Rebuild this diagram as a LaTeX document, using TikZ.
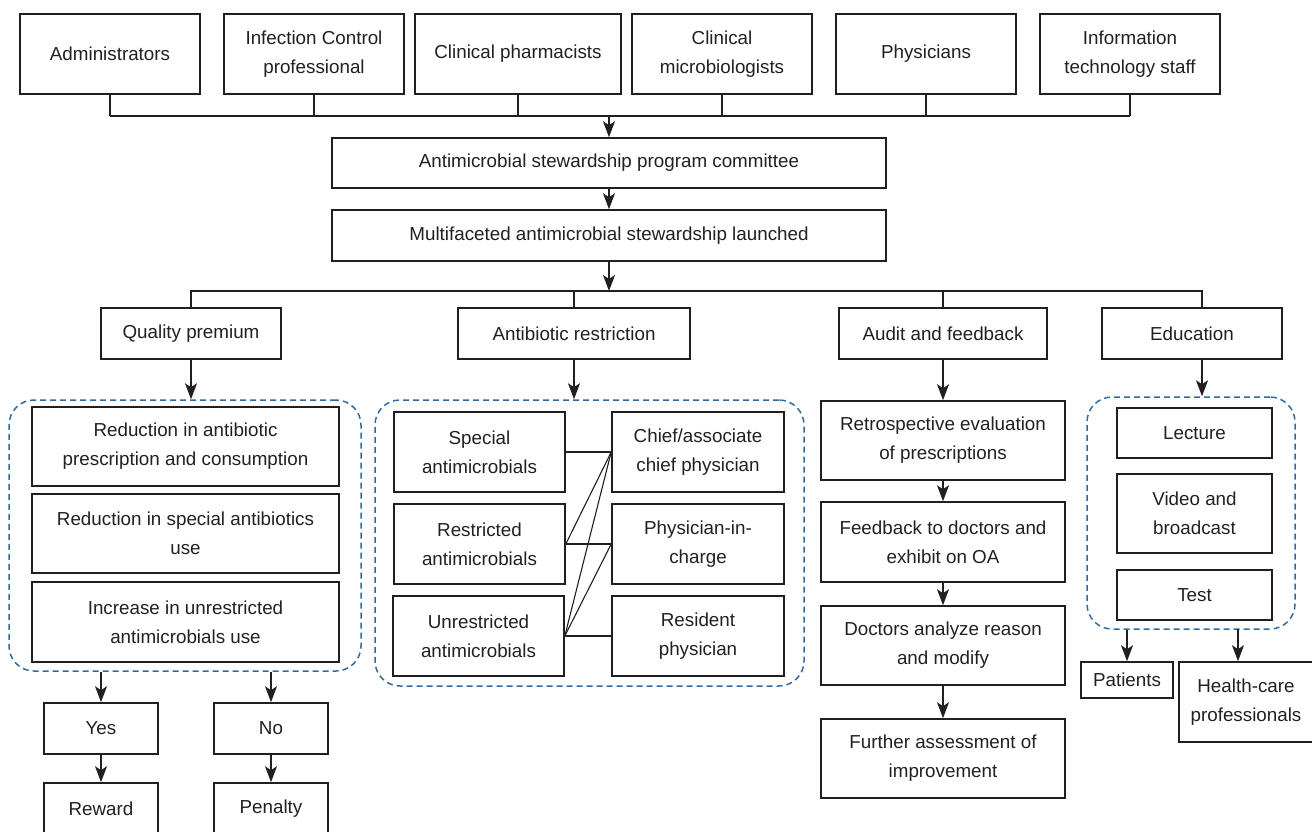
\documentclass[tikz,border=0pt]{standalone}
\usepackage{fontspec}
\setmainfont{Liberation Sans}
\usepackage{tikz}
\usetikzlibrary{arrows.meta,calc}
\definecolor{ink}{HTML}{231F20}
\definecolor{groupblue}{HTML}{2E6BA3}

\begin{document}
\begin{tikzpicture}[x=1pt, y=-1pt,
    box/.style={draw=ink, line width=1.6pt, text=ink, align=center, inner sep=0pt,
                font=\fontsize{18.8}{29}\selectfont},
    wh/.style 2 args={minimum width=#1pt, minimum height=#2pt},
    conn/.style={draw=ink, line width=1.4pt},
    link/.style={draw=ink, line width=1.1pt},
    arr/.style={conn, -{Stealth[length=16pt, width=12pt, inset=4pt]}},
    group/.style={draw=groupblue, line width=1.5pt, dash pattern=on 6pt off 4pt,
                  rounded corners=25pt, inner sep=0pt}]
    \useasboundingbox (0,0) rectangle (1312,831);

    % Team members
    \node[box, wh={180}{80}] (adm) at (110,54) {Administrators};
    \node[box, wh={180}{80}] (icp) at (314,54) {Infection Control\\professional};
    \node[box, wh={206}{80}] (cph) at (518,54) {Clinical pharmacists};
    \node[box, wh={180}{80}] (cmb) at (722,54) {Clinical\\microbiologists};
    \node[box, wh={180}{80}] (phy) at (926,54) {Physicians};
    \node[box, wh={180}{80}] (its) at (1130,54) {Information\\technology staff};

    \coordinate (b1) at (609,116);
    \foreach \n in {adm,icp,cph,cmb,phy,its} {
        \draw[conn] (\n.south) -- (\n.south |- b1);
    }
    \draw[conn] (adm.south |- b1) -- (its.south |- b1);

    % Committee and launch
    \node[box, wh={554}{50}] (com) at (609,163) {Antimicrobial stewardship program committee};
    \node[box, wh={554}{51}] (mul) at (609,235.5) {Multifaceted antimicrobial stewardship launched};
    \draw[arr] (b1) -- (com.north);
    \draw[arr] (com.south) -- (mul.north);

    \coordinate (b2) at (609,291);
    \coordinate (b2r) at (1202,291);
    \draw[arr] (mul.south) -- (b2);

    % Four strategies
    \node[box, wh={180}{51}] (qp) at (191,333.5) {Quality premium};
    \node[box, wh={232}{51}] (ar) at (574,333.5) {Antibiotic restriction};
    \node[box, wh={208}{51}] (af) at (943,333.5) {Audit and feedback};
    \node[box, wh={180}{51}] (ed) at (1192,333.5) {Education};

    \draw[conn] (qp.north) -- (qp.north |- b2) -- (b2r) -- (b2r |- ed.north);
    \foreach \n in {ar,af} {
        \draw[conn] (\n.north) -- (\n.north |- b2);
    }

    % Quality premium
    \node[group, wh={352}{271}] (gq) at (185,535.5) {};
    \node[box, wh={307}{79}] (q1) at (185.5,446.5) {Reduction in antibiotic\\prescription and consumption};
    \node[box, wh={307}{79}] (q2) at (185.5,533.5) {Reduction in special antibiotics\\use};
    \node[box, wh={307}{80}] (q3) at (185.5,622) {Increase in unrestricted\\antimicrobials use};
    \draw[arr] (qp.south) -- (qp.south |- gq.north);

    \node[box, wh={114}{51}] (yes) at (101,728.5) {Yes};
    \node[box, wh={114}{51}] (no) at (271,728.5) {No};
    \node[box, wh={114}{51}] (rew) at (101,808.5) {Reward};
    \node[box, wh={114}{51}] (pen) at (271,808.5) {Penalty};
    \draw[arr] (yes.north |- gq.south) -- (yes.north);
    \draw[arr] (no.north |- gq.south) -- (no.north);
    \draw[arr] (yes.south) -- (rew.north);
    \draw[arr] (no.south) -- (pen.north);

    % Antibiotic restriction
    \node[group, wh={429}{286}] (ga) at (589.5,543) {};
    \node[box, wh={171}{80}] (spa) at (479.5,452) {Special\\antimicrobials};
    \node[box, wh={171}{80}] (rsa) at (479.5,544) {Restricted\\antimicrobials};
    \node[box, wh={171}{80}] (ura) at (478.5,636) {Unrestricted\\antimicrobials};
    \node[box, wh={172}{80}] (chf) at (698,452) {Chief/associate\\chief physician};
    \node[box, wh={172}{80}] (pic) at (698,544) {Physician-in-\\charge};
    \node[box, wh={172}{80}] (res) at (698,636) {Resident\\physician};
    \draw[arr] (ar.south) -- (ar.south |- ga.north);
    \foreach \a/\b in {spa/chf,rsa/chf,rsa/pic,ura/chf,ura/pic,ura/res} {
        \draw[link] (\a.east) -- (\b.west);
    }

    % Audit and feedback
    \node[box, wh={244}{79}] (r1) at (943,440.5) {Retrospective evaluation\\of prescriptions};
    \node[box, wh={244}{80}] (r2) at (943,542) {Feedback to doctors and\\exhibit on OA};
    \node[box, wh={244}{79}] (r3) at (943,645.5) {Doctors analyze reason\\and modify};
    \node[box, wh={244}{79}] (r4) at (943,758.5) {Further assessment of\\improvement};
    \draw[arr] (af.south) -- (r1.north);
    \draw[arr] (r1.south) -- (r2.north);
    \draw[arr] (r2.south) -- (r3.north);
    \draw[arr] (r3.south) -- (r4.north);

    % Education
    \node[group, wh={208}{232}] (ge) at (1191,513) {};
    \node[box, wh={155}{50}] (lec) at (1194.5,433) {Lecture};
    \node[box, wh={155}{79}] (vid) at (1194.5,513.5) {Video and\\broadcast};
    \node[box, wh={155}{50}] (tst) at (1194.5,595) {Test};
    \draw[arr] (b2r |- ed.south) -- (b2r |- ge.north);

    \node[box, wh={92}{36}] (pat) at (1127,680) {Patients};
    \node[box, wh={134}{80}] (hcp) at (1246,702) {Health-care\\professionals};
    \coordinate (hc) at (1238,629);
    \draw[arr] (pat.north |- ge.south) -- (pat.north);
    \draw[arr] (hc) -- (hc |- hcp.north);

\end{tikzpicture}
\end{document}
